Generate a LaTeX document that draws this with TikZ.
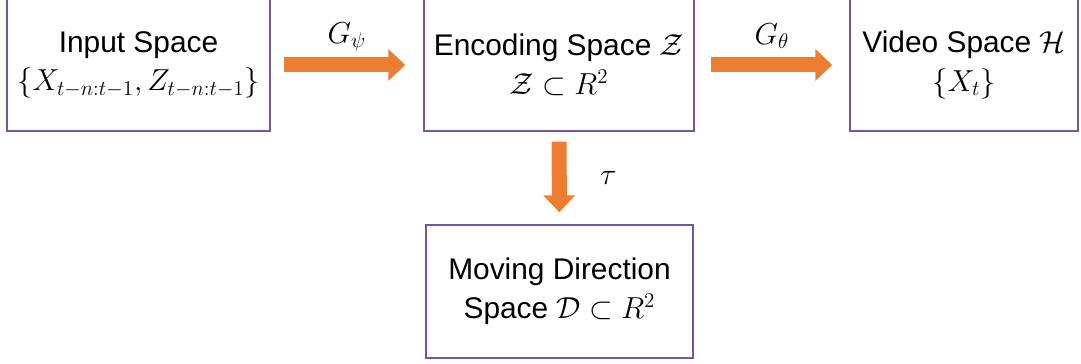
\documentclass[tikz,border=0pt]{standalone}
\usepackage{amsmath,amssymb}
\usepackage{fontspec}
\setmainfont{Liberation Sans}
\usepackage{xcolor}
\usepackage{tikz}
\usetikzlibrary{arrows.meta,positioning}
\definecolor{boxline}{RGB}{120,85,160}
\definecolor{arroworange}{RGB}{237,125,49}

\begin{document}
\begin{tikzpicture}[
    box/.style={rectangle, draw=boxline, line width=0.8pt, minimum height=2.64cm, align=center, font=\fontsize{17}{22}\selectfont},
    flow/.style={arroworange, line width=0.3cm, -{Triangle[length=0.34cm, width=0.62cm]}},
    lbl/.style={text=black, font=\fontsize{17}{21}\selectfont}
]
    \useasboundingbox (0,0) rectangle (21.62,-7.28);
    \node[box, minimum width=5.26cm] (inp) at (2.77,-1.3) {Input Space\\$\{X_{t-n:t-1},Z_{t-n:t-1}\}$};
    \node[box, minimum width=5.4cm] (enc) at (11.18,-1.3) {Encoding Space $\mathcal{Z}$\\$\mathcal{Z}\subset R^2$};
    \node[box, minimum width=4.56cm] (vid) at (19.28,-1.3) {Video Space $\mathcal{H}$\\$\{X_t\}$};
    \node[box, minimum width=5.34cm, minimum height=2.66cm] (mov) at (11.19,-5.83) {Moving Direction\\Space $\mathcal{D}\subset R^2$};

    \draw[flow, shorten <=0.26cm, shorten >=0.36cm] (inp) -- node[lbl, yshift=0.56cm] {$G_\psi$} (enc);
    \draw[flow, shorten <=0.32cm, shorten >=0.34cm] (enc) -- node[lbl, yshift=0.58cm] {$G_\theta$} (vid);
    \draw[flow, shorten <=0.2cm, shorten >=0.24cm] (enc) -- node[lbl, xshift=0.98cm] {$\tau$} (mov);
\end{tikzpicture}
\end{document}
